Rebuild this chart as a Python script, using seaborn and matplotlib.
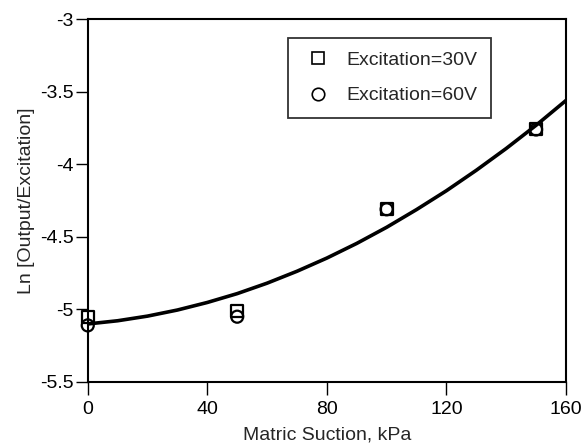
import matplotlib
matplotlib.use("Agg")
import matplotlib.pyplot as plt
import seaborn as sns
import pandas as pd
from matplotlib.lines import Line2D

suction = [0, 50, 100, 150]
ln_30v = [-5.05, -5.01, -4.31, -3.76]
ln_60v = [-5.11, -5.05, -4.31, -3.76]

curve_x = [0, 10, 20, 30, 40, 50, 60, 70, 80, 90, 100, 110, 120, 130, 140, 150, 160]
curve_y = [-5.10, -5.078, -5.046, -5.004, -4.952, -4.891, -4.819, -4.737,
           -4.646, -4.545, -4.434, -4.312, -4.182, -4.041, -3.891, -3.731, -3.56]

series_labels = ["Excitation=30V", "Excitation=60V"]
xticks = [0, 40, 80, 120, 160]
yticks = [-5.5, -5, -4.5, -4, -3.5, -3]
ytick_labels = ["-5.5", "-5", "-4.5", "-4", "-3.5", "-3"]

sns.set_theme(style="ticks")
plt.rcParams["font.family"] = ["Liberation Sans", "DejaVu Sans"]

fig = plt.figure(figsize=(5.85, 4.46), dpi=100)
ax = fig.add_axes([0.150, 0.1435, 0.8175, 0.8135])

pts = pd.DataFrame({
    "x": suction * 2,
    "y": ln_30v + ln_60v,
    "s": [series_labels[0]] * 4 + [series_labels[1]] * 4,
})
curve = pd.DataFrame({"x": curve_x, "y": curve_y})

sns.lineplot(data=curve, x="x", y="y", ax=ax, color="black", lw=2.6)
sns.scatterplot(data=pts, x="x", y="y", style="s", markers={series_labels[0]: "s", series_labels[1]: "o"},
                ax=ax, s=75, facecolor="none", edgecolor="black", linewidth=1.6, legend=False,
                zorder=5, clip_on=False)
for coll in ax.collections:
    coll.set_facecolor("none")
    coll.set_edgecolor("black")

ax.set_xlim(0, 160)
ax.set_ylim(-5.5, -3)
ax.set_xticks(xticks)
ax.set_yticks(yticks)
ax.set_yticklabels(ytick_labels)
ax.set_xlabel("Matric Suction, kPa", fontsize=14, labelpad=6)
ax.set_ylabel("Ln [Output/Excitation]", fontsize=14, labelpad=4)
ax.tick_params(axis="both", direction="out", length=9, width=1.0, labelsize=14, colors="black",
               top=False, right=False)
ax.tick_params(axis="x", pad=5)
ax.tick_params(axis="y", pad=1)
for sp in ax.spines.values():
    sp.set_visible(True)
    sp.set_color("black")
    sp.set_linewidth(1.5)

handles = [
    Line2D([], [], marker="s", ls="none", mfc="none", mec="black", ms=9, mew=1.2),
    Line2D([], [], marker="o", ls="none", mfc="none", mec="black", ms=9, mew=1.2),
]
leg = ax.legend(handles, series_labels, loc="upper left", bbox_to_anchor=(0.418, 0.948),
                borderaxespad=0, frameon=True, fancybox=False, edgecolor="black", fontsize=14,
                labelspacing=0.9, handletextpad=0.6, borderpad=0.7, handlelength=1.7)
leg.get_frame().set_linewidth(1.3)

fig.savefig("out.png", dpi=100)
